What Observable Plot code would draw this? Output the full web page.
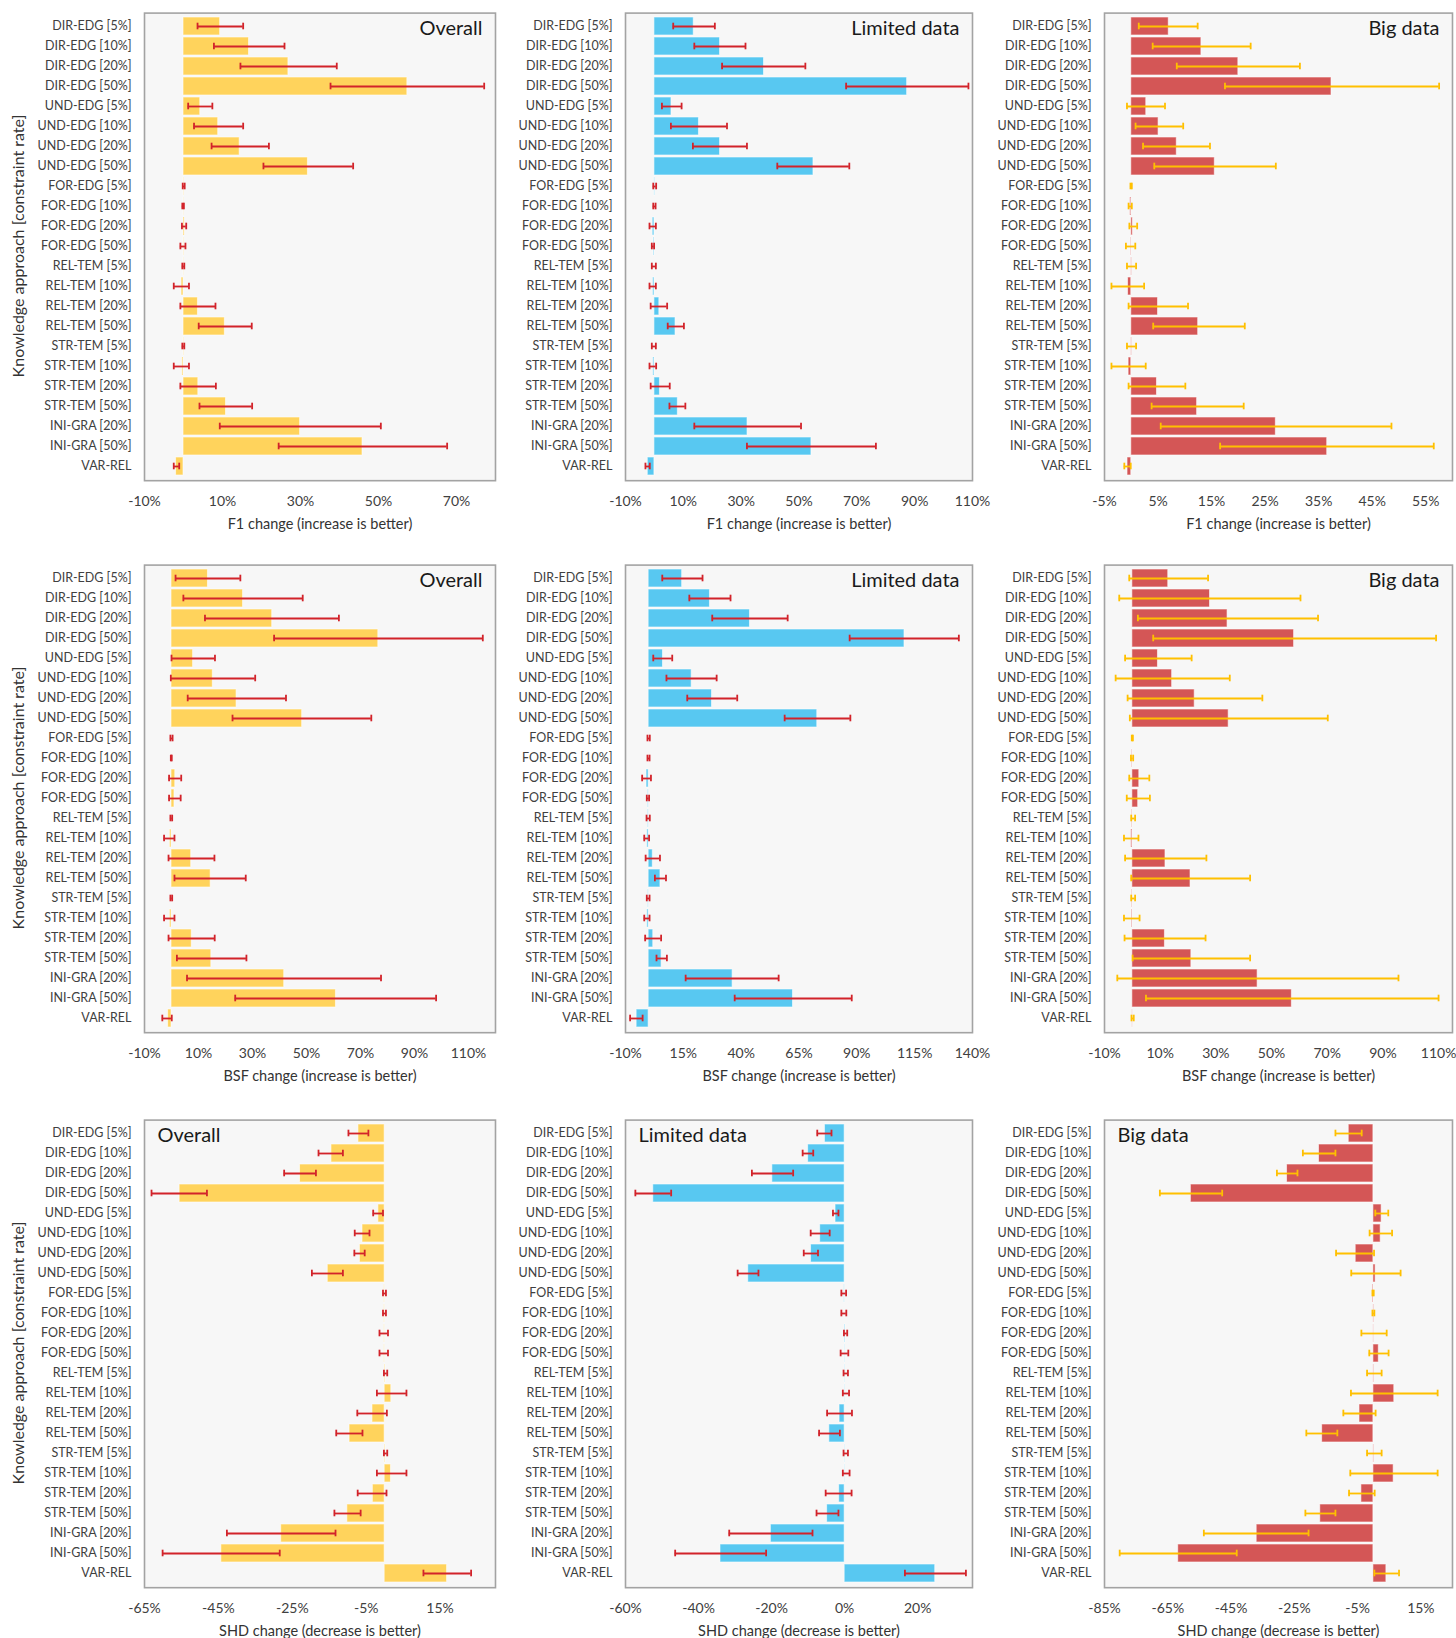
<!DOCTYPE html>
<html><head><meta charset="utf-8">
<script src="https://cdn.jsdelivr.net/npm/d3@7"></script>
<script src="https://cdn.jsdelivr.net/npm/@observablehq/plot@0.6"></script>
<style>
body{margin:0;background:#fff;}
#wrap{position:relative;width:1456px;height:1638px;font-family:Lato,sans-serif;overflow:hidden;}
.panel{position:absolute;}
.ytitle{position:absolute;width:400px;height:20px;line-height:20px;text-align:center;font-size:16px;color:#333;transform:rotate(-90deg);transform-origin:50% 50%;white-space:nowrap;}
</style></head><body><div id="wrap"></div>
<script>
const categories = ["DIR-EDG [5%]","DIR-EDG [10%]","DIR-EDG [20%]","DIR-EDG [50%]","UND-EDG [5%]","UND-EDG [10%]","UND-EDG [20%]","UND-EDG [50%]","FOR-EDG [5%]","FOR-EDG [10%]","FOR-EDG [20%]","FOR-EDG [50%]","REL-TEM [5%]","REL-TEM [10%]","REL-TEM [20%]","REL-TEM [50%]","STR-TEM [5%]","STR-TEM [10%]","STR-TEM [20%]","STR-TEM [50%]","INI-GRA [20%]","INI-GRA [50%]","VAR-REL"];

// F1 change
const f1OverallMean = [9.4,16.8,26.9,57.4,4.3,8.9,14.4,31.9,0.1,0.05,0.3,0.1,0.05,-0.5,3.7,10.6,0.1,-0.3,3.8,10.9,29.9,45.9,-1.9];
const f1OverallLo   = [3.6,7.8,14.6,37.7,1.2,2.7,7.2,20.5,-0.2,-0.3,-0.4,-0.8,-0.3,-2.5,-0.8,3.9,-0.3,-2.5,-0.8,4.1,9.3,24.4,-2.5];
const f1OverallHi   = [15.3,25.9,39.3,77.1,7.4,15.3,21.9,43.5,0.3,0.1,0.7,0.5,0.2,1.4,8.2,17.5,0.2,1.4,8.3,17.6,50.6,67.6,-1.1];

const f1LimitedMean = [13.6,22.7,37.9,87.4,5.9,15.4,22.7,55.0,0.2,0.0,-0.6,-0.3,0.0,-0.5,1.7,7.3,0.0,-0.4,1.9,8.1,32.2,54.3,-2.3];
const f1LimitedLo   = [6.5,13.8,23.4,66.3,2.6,5.7,13.3,42.5,-0.4,-0.4,-1.7,-0.9,-0.9,-1.7,-1.3,4.6,-0.9,-1.7,-1.3,5.2,13.8,32.0,-3.1];
const f1LimitedHi   = [20.9,31.5,52.2,108.6,9.4,25.1,32.0,67.4,0.6,0.4,0.5,-0.1,0.5,0.5,4.4,10.2,0.5,0.6,5.3,10.7,50.7,76.6,-1.6];

const f1BigMean = [7.0,13.1,20.0,37.4,2.8,5.1,8.5,15.6,0.0,-0.2,0.3,-0.1,0.1,-0.6,5.0,12.5,0.1,-0.5,4.8,12.3,27.0,36.6,-0.7];
const f1BigLo   = [1.4,4.0,8.5,17.5,-0.8,0.8,2.2,4.3,-0.15,-0.5,-0.35,-1.0,-0.8,-3.7,-0.5,4.1,-0.8,-3.7,-0.5,3.8,5.5,16.6,-1.3];
const f1BigHi   = [12.4,22.3,31.5,57.5,6.3,9.7,14.7,27.0,0.1,0.1,1.1,0.75,0.9,2.4,10.6,21.2,0.9,2.7,10.1,21.0,48.6,56.5,-0.1];

// BSF change
const bsfOverallMean = [13.5,26.5,37.3,76.6,8.0,15.3,24.1,48.4,0.0,0.0,1.4,1.1,0.0,-0.6,7.3,14.5,0.0,-0.6,7.5,14.75,41.75,60.9,-1.25];
const bsfOverallLo   = [1.5,4.4,12.4,38.0,0.0,-0.25,6.0,22.6,-0.4,-0.25,-0.9,-0.9,-0.4,-2.75,-1.1,1.1,-0.4,-2.75,-1.1,2.0,5.75,23.6,-3.4];
const bsfOverallHi   = [25.5,48.6,62.0,115.3,16.1,31.0,42.4,74.0,0.4,0.1,3.6,3.4,0.25,1.1,15.9,27.5,0.25,1.1,16.0,27.75,77.6,98.0,0.1];

const bsfLimitedMean = [14.5,26.5,43.8,110.6,6.2,18.6,27.4,72.9,0.0,0.0,-0.9,-0.3,-0.3,-0.6,1.8,5.1,-0.2,-0.6,2.0,5.6,36.3,62.4,-5.2];
const bsfLimitedLo   = [5.9,17.6,27.5,86.9,2.0,7.7,16.7,58.8,-0.5,-0.5,-2.8,-0.8,-0.9,-1.9,-1.3,2.7,-0.8,-1.9,-1.5,3.4,16.0,37.2,-8.0];
const bsfLimitedHi   = [23.3,35.4,60.1,134.1,10.2,29.4,38.3,87.2,0.5,0.4,1.0,0.2,0.5,0.2,4.9,7.5,0.4,0.4,5.4,7.9,56.2,87.8,-2.6];

const bsfBigMean = [12.9,27.9,34.2,58.1,9.2,14.3,22.4,34.6,0.0,-0.2,2.5,2.1,-0.2,-0.4,11.9,20.9,-0.2,-0.3,11.7,21.2,45.0,57.3,0.1];
const bsfBigLo   = [-1.1,-4.7,2.0,7.5,-2.6,-6.0,-1.7,-0.9,-0.2,-0.5,-1.1,-2.0,-0.4,-3.0,-2.6,-0.4,-0.4,-3.0,-2.8,0.1,-5.4,4.9,-0.3];
const bsfBigHi   = [27.2,60.4,66.7,109.1,21.3,35.0,46.7,70.2,0.2,0.3,6.1,6.3,1.0,2.2,26.6,42.3,1.0,2.6,26.3,42.3,95.6,110.0,0.5];

// SHD change
const shdOverallMean = [-7.1,-14.4,-22.9,-55.5,-1.7,-6.0,-6.7,-15.4,-0.1,-0.1,-0.1,-0.1,0.2,1.8,-3.3,-9.5,0.2,1.7,-3.2,-10.1,-28.0,-44.2,16.9];
const shdOverallLo   = [-9.8,-17.9,-27.2,-63.1,-3.1,-8.1,-8.2,-19.7,-0.45,-0.45,-1.4,-1.4,-0.2,-2.1,-7.4,-13.1,-0.2,-2.1,-7.3,-13.6,-42.7,-60.1,10.5];
const shdOverallHi   = [-4.4,-11.3,-18.6,-48.1,-0.45,-4.1,-5.4,-11.3,0.35,0.35,0.9,0.9,0.7,5.9,0.6,-6.0,0.7,5.9,0.5,-6.5,-13.3,-28.4,23.4];

const shdLimitedMean = [-5.4,-10.0,-19.8,-52.4,-2.5,-6.7,-9.2,-26.4,-0.1,0.0,0.2,0.1,0.1,0.1,-1.4,-4.2,0.1,0.1,-1.5,-4.8,-20.2,-34.0,24.8];
const shdLimitedLo   = [-7.5,-11.5,-25.4,-57.3,-3.2,-9.3,-11.2,-29.3,-0.9,-0.9,-0.2,-1.1,-0.3,-0.5,-4.8,-7.0,-0.3,-0.5,-5.2,-7.7,-31.6,-46.4,16.5];
const shdLimitedHi   = [-3.6,-8.6,-14.1,-47.5,-1.7,-4.1,-7.3,-23.6,0.4,0.45,0.7,1.0,0.9,1.2,2.0,-1.3,0.9,1.35,1.9,-1.7,-8.8,-21.5,33.2];

const shdBigMean = [-7.8,-17.2,-27.3,-57.7,2.6,2.3,-5.6,0.7,-0.3,0.2,0.1,1.7,0.2,6.6,-4.4,-16.2,0.2,6.4,-3.8,-16.8,-36.9,-61.7,4.1];
const shdBigLo   = [-12.0,-22.3,-30.5,-67.5,0.6,-1.2,-11.8,-7.0,-0.3,-0.3,-3.8,-1.3,-2.0,-7.1,-9.5,-21.2,-2.0,-7.3,-7.7,-21.5,-53.6,-80.2,0.3];
const shdBigHi   = [-3.7,-12.0,-24.0,-47.8,4.7,5.9,0.2,8.6,0.1,0.3,4.2,4.8,2.6,20.3,0.7,-11.4,2.6,20.3,0.4,-12.0,-20.5,-43.2,8.1];

// axes
const f1OverallTicks = [-10,10,30,50,70];
const f1LimitedTicks = [-10,10,30,50,70,90,110];
const f1BigTicks = [-5,5,15,25,35,45,55];
const bsfOverallTicks = [-10,10,30,50,70,90,110];
const bsfLimitedTicks = [-10,15,40,65,90,115,140];
const bsfBigTicks = [-10,10,30,50,70,90,110];
const shdOverallTicks = [-65,-45,-25,-5,15];
const shdLimitedTicks = [-60,-40,-20,0,20];
const shdBigTicks = [-85,-65,-45,-25,-5,15];

const groupLabels = ["Overall","Limited data","Big data"];
const xTitles = ["F1 change (increase is better)","BSF change (increase is better)","SHD change (decrease is better)"];
const yTitle = "Knowledge approach [constraint rate]";

const barColors = ["#FFD35C","#58C8F1","#D45656"];
const errColors = ["#D2232A","#D2232A","#FFC000"];

const cols = [
  {left: 0, width: 497, marginLeft: 144},
  {left: 490, width: 484, marginLeft: 135},
  {left: 975, width: 479, marginLeft: 129}
];
const rowTops = [0, 552, 1107];

const panels = [
  [[f1OverallMean,f1OverallLo,f1OverallHi,[-10,80],f1OverallTicks],
   [f1LimitedMean,f1LimitedLo,f1LimitedHi,[-10,110],f1LimitedTicks],
   [f1BigMean,f1BigLo,f1BigHi,[-5,60],f1BigTicks]],
  [[bsfOverallMean,bsfOverallLo,bsfOverallHi,[-10,120],bsfOverallTicks],
   [bsfLimitedMean,bsfLimitedLo,bsfLimitedHi,[-10,140],bsfLimitedTicks],
   [bsfBigMean,bsfBigLo,bsfBigHi,[-10,115],bsfBigTicks]],
  [[shdOverallMean,shdOverallLo,shdOverallHi,[-65,30],shdOverallTicks],
   [shdLimitedMean,shdLimitedLo,shdLimitedHi,[-60,35],shdLimitedTicks],
   [shdBigMean,shdBigLo,shdBigHi,[-85,25],shdBigTicks]]
];

const wrap = document.getElementById("wrap");
const MT = 12.6, MB = 50, FH = 467.6, H = MT + FH + MB;

panels.forEach((row, r) => {
  row.forEach(([mean, lo, hi, domain, ticks], c) => {
    const data = categories.map((cat, i) => ({cat, v: mean[i], lo: lo[i], hi: hi[i]}));
    const labelAnchor = r < 2 ? "top-right" : "top-left";
    const err = errColors[c];
    const plot = Plot.plot({
      width: cols[c].width, height: H,
      marginLeft: cols[c].marginLeft, marginRight: 2, marginTop: MT, marginBottom: MB,
      style: {fontFamily: "Lato, sans-serif", fontSize: "14px", color: "#404040", background: "transparent", overflow: "visible"},
      x: {domain, ticks, tickFormat: d => d + "%", tickSize: 0, tickPadding: 15, label: null},
      y: {domain: categories, axis: null, paddingInner: 0.1, paddingOuter: 0},
      marks: [
        Plot.frame({fill: "#f7f7f7"}),
        Plot.barX(data, {y: "cat", x: "v", fill: barColors[c], stroke: "#ffffff", strokeWidth: 1, strokeOpacity: 0.6}),
        Plot.ruleY(data, {y: "cat", x1: "lo", x2: "hi", stroke: err, strokeWidth: 1.8}),
        Plot.tickX(data, {y: "cat", x: "lo", stroke: err, strokeWidth: 1.8, insetTop: 5.7, insetBottom: 5.7}),
        Plot.tickX(data, {y: "cat", x: "hi", stroke: err, strokeWidth: 1.8, insetTop: 5.7, insetBottom: 5.7}),
        Plot.text(categories, {y: d => d, text: d => d, frameAnchor: "left", textAnchor: "end", dx: -13, fontSize: 12.5, fill: "#404040"}),
        Plot.text([groupLabels[c]], {text: d => d, frameAnchor: labelAnchor, dx: r < 2 ? -13 : 13, dy: 8, fontSize: 20, fill: "#1a1a1a"}),
        Plot.text([xTitles[r]], {text: d => d, frameAnchor: "bottom", lineAnchor: "middle", dy: 44, fontSize: 14.5, fill: "#333"}),
        Plot.frame({stroke: "#a3a3a3", strokeWidth: 1.6})
      ]
    });
    plot.classList.add("panel");
    plot.style.left = cols[c].left + "px";
    plot.style.top = rowTops[r] + "px";
    plot.style.position = "absolute";
    wrap.appendChild(plot);
  });
  const yt = document.createElement("div");
  yt.className = "ytitle";
  yt.textContent = yTitle;
  const center = rowTops[r] + MT + FH / 2;
  yt.style.left = (18 - 200) + "px";
  yt.style.top = (center - 10) + "px";
  wrap.appendChild(yt);
});
</script></body></html>
